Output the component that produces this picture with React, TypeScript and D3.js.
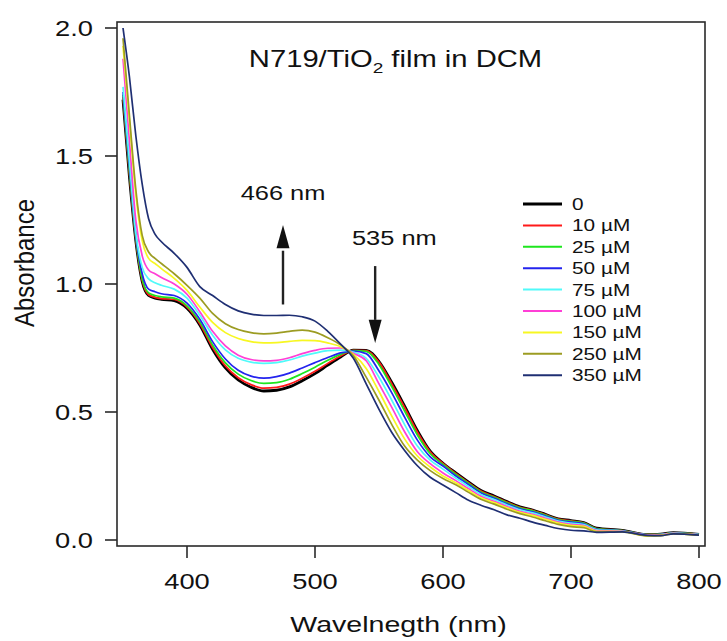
import React from "react";
import * as d3 from "d3";

const WAVELENGTHS = [350,355,360,365,370,375,380,390,400,410,420,430,440,450,460,470,480,490,500,510,520,530,540,550,560,570,580,590,600,610,620,630,640,650,660,670,680,690,700,710,720,740,760,770,780,800];

const C0 = [1.72,1.42,1.17,1.01,0.955,0.945,0.94,0.935,0.905,0.84,0.745,0.672,0.625,0.597,0.582,0.585,0.598,0.622,0.65,0.683,0.715,0.742,0.741,0.697,0.615,0.523,0.427,0.347,0.3,0.262,0.226,0.192,0.172,0.15,0.13,0.117,0.1,0.083,0.076,0.068,0.046,0.038,0.021,0.023,0.029,0.022];
const C10 = [1.73,1.43,1.175,1.013,0.958,0.948,0.943,0.94,0.91,0.845,0.752,0.68,0.634,0.607,0.593,0.596,0.609,0.632,0.659,0.69,0.719,0.741,0.74,0.695,0.61,0.518,0.422,0.345,0.299,0.26,0.224,0.19,0.17,0.148,0.128,0.116,0.099,0.082,0.075,0.067,0.045,0.037,0.021,0.022,0.028,0.022];
const C25 = [1.74,1.44,1.18,1.02,0.965,0.955,0.95,0.945,0.915,0.852,0.762,0.692,0.648,0.623,0.612,0.615,0.628,0.65,0.675,0.702,0.725,0.74,0.737,0.685,0.598,0.504,0.41,0.337,0.295,0.256,0.221,0.187,0.167,0.145,0.126,0.114,0.097,0.08,0.073,0.066,0.044,0.037,0.021,0.022,0.028,0.022];
const C50 = [1.75,1.46,1.19,1.04,0.98,0.97,0.962,0.955,0.925,0.862,0.775,0.707,0.663,0.64,0.632,0.638,0.652,0.672,0.693,0.713,0.731,0.738,0.728,0.66,0.575,0.48,0.39,0.325,0.289,0.25,0.216,0.183,0.163,0.141,0.122,0.11,0.094,0.077,0.07,0.063,0.042,0.036,0.02,0.021,0.027,0.021];
const C75 = [1.77,1.48,1.2,1.065,1.02,1.005,0.995,0.98,0.945,0.878,0.8,0.743,0.71,0.695,0.69,0.693,0.703,0.718,0.73,0.74,0.742,0.734,0.71,0.636,0.546,0.451,0.367,0.312,0.277,0.242,0.209,0.177,0.158,0.137,0.118,0.106,0.09,0.074,0.066,0.06,0.04,0.035,0.02,0.021,0.027,0.021];
const C100 = [1.88,1.56,1.25,1.11,1.055,1.04,1.025,1.0,0.96,0.892,0.815,0.758,0.722,0.705,0.7,0.702,0.712,0.728,0.741,0.749,0.75,0.729,0.7,0.61,0.518,0.423,0.345,0.298,0.262,0.232,0.2,0.17,0.151,0.131,0.112,0.1,0.085,0.07,0.061,0.056,0.037,0.034,0.019,0.02,0.026,0.02];
const C150 = [1.93,1.64,1.35,1.17,1.1,1.08,1.06,1.022,0.975,0.91,0.85,0.81,0.787,0.775,0.77,0.771,0.776,0.78,0.779,0.77,0.755,0.725,0.67,0.58,0.484,0.395,0.328,0.285,0.25,0.224,0.193,0.164,0.146,0.126,0.108,0.096,0.081,0.066,0.057,0.053,0.034,0.033,0.017,0.018,0.025,0.019];
const C250 = [1.96,1.66,1.37,1.19,1.125,1.1,1.08,1.04,0.995,0.945,0.885,0.845,0.822,0.81,0.805,0.808,0.815,0.82,0.812,0.79,0.762,0.72,0.636,0.546,0.451,0.367,0.312,0.271,0.24,0.216,0.186,0.158,0.14,0.12,0.103,0.09,0.075,0.061,0.052,0.048,0.032,0.032,0.016,0.017,0.024,0.019];
const C350 = [2.0,1.81,1.58,1.39,1.255,1.195,1.165,1.12,1.065,0.99,0.955,0.92,0.895,0.882,0.877,0.877,0.878,0.872,0.855,0.815,0.765,0.71,0.61,0.51,0.42,0.35,0.29,0.245,0.215,0.185,0.155,0.135,0.118,0.098,0.085,0.07,0.057,0.045,0.038,0.036,0.03,0.032,0.018,0.017,0.024,0.019];

const LABELS = ["0", "10 µM", "25 µM", "50 µM", "75 µM", "100 µM", "150 µM", "250 µM", "350 µM"];
const VALUES = [C0, C10, C25, C50, C75, C100, C150, C250, C350];
const COLORS = ["#000000", "#ff1a1a", "#1ee61e", "#2424ee", "#50fafa", "#ff3fd6", "#f7f722", "#9c9c22", "#1f2f73"];
const WIDTHS = [2.8, 1.7, 1.7, 1.7, 1.7, 1.7, 1.7, 1.7, 1.7];

const X_TICKS = [400, 500, 600, 700, 800];
const Y_TICKS = [0, 0.5, 1.0, 1.5, 2.0];

const W = 727, H = 641;
const FRAME = { left: 117, right: 705, top: 22, bottom: 546 };
const SX = 1.27;
const FONT = "'Liberation Sans', Arial, sans-serif";

export default function App() {
  const x = d3.scaleLinear().domain([350, 800]).range([123, 699]);
  const y = d3.scaleLinear().domain([0, 2]).range([540, 28]);
  const line = d3
    .line<number>()
    .x((_, i) => x(WAVELENGTHS[i]))
    .y((v) => y(v))
    .curve(d3.curveMonotoneX);

  const txt = (tx: number, ty: number, s: number, content: React.ReactNode, anchor = "start", size = 21) => (
    <text
      transform={`translate(${tx},${ty}) scale(${s},1)`}
      textAnchor={anchor}
      fontFamily={FONT}
      fontSize={size}
      fill="#111"
    >
      {content}
    </text>
  );

  const legX0 = 523, legX1 = 562, legTx = 572, legY0 = 204, legDy = 21.4;

  return (
    <svg width={W} height={H} style={{ position: "absolute", left: 0, top: 0, background: "#fff" }}>
      <defs>
        <clipPath id="plotclip">
          <rect x={FRAME.left} y={FRAME.top} width={FRAME.right - FRAME.left} height={FRAME.bottom - FRAME.top} />
        </clipPath>
      </defs>
      <rect x={0} y={0} width={W} height={H} fill="#fff" />
      <g clipPath="url(#plotclip)">
        {VALUES.map((vals, i) => (
          <path key={i} d={line(vals) || ""} fill="none" stroke={COLORS[i]} strokeWidth={WIDTHS[i]} strokeLinejoin="round" />
        ))}
      </g>
      <rect
        x={FRAME.left}
        y={FRAME.top}
        width={FRAME.right - FRAME.left}
        height={FRAME.bottom - FRAME.top}
        fill="none"
        stroke="#2a2a2a"
        strokeWidth={1.6}
      />
      {Y_TICKS.map((t) => (
        <g key={"y" + t}>
          <line x1={FRAME.left - 12} x2={FRAME.left} y1={y(t)} y2={y(t)} stroke="#2a2a2a" strokeWidth={1.6} />
          {txt(93, y(t) + 7.5, SX, t.toFixed(1), "end", 21.5)}
        </g>
      ))}
      {X_TICKS.map((t) => (
        <g key={"x" + t}>
          <line x1={x(t)} x2={x(t)} y1={FRAME.bottom} y2={FRAME.bottom + 12} stroke="#2a2a2a" strokeWidth={1.6} />
          {txt(x(t), 589, SX, String(t), "middle", 21.5)}
        </g>
      ))}
      {txt(398.5, 632, SX, "Wavelnegth (nm)", "middle", 22.5)}
      <text
        transform={`translate(34,263) scale(1.12,1) rotate(-90)`}
        textAnchor="middle"
        fontFamily={FONT}
        fontSize={24}
        fill="#111"
      >
        Absorbance
      </text>
      {txt(
        395.5,
        66.5,
        SX,
        <>
          N719/TiO
          <tspan fontSize={15} dy={6}>2</tspan>
          <tspan dy={-6}> film in DCM</tspan>
        </>,
        "middle",
        23
      )}
      {txt(x(475), y(1.328), SX, "466 nm", "middle", 20)}
      {txt(x(562), y(1.152), SX, "535 nm", "middle", 20)}
      <line x1={x(475)} x2={x(475)} y1={y(0.92)} y2={y(1.13)} stroke="#222" strokeWidth={2.4} />
      <path
        d={`M${x(475)},${y(1.23)} L${x(475) - 6.5},${y(1.14)} L${x(475) + 6.5},${y(1.14)} Z`}
        fill="#111"
      />
      <line x1={x(547)} x2={x(547)} y1={y(1.07)} y2={y(0.86)} stroke="#222" strokeWidth={2.4} />
      <path
        d={`M${x(547)},${y(0.77)} L${x(547) - 6.5},${y(0.86)} L${x(547) + 6.5},${y(0.86)} Z`}
        fill="#111"
      />
      {LABELS.map((lab, i) => (
        <g key={"leg" + i}>
          <line
            x1={legX0}
            x2={legX1}
            y1={legY0 + i * legDy}
            y2={legY0 + i * legDy}
            stroke={COLORS[i]}
            strokeWidth={i === 0 ? 3 : 2}
          />
          {txt(legTx, legY0 + i * legDy + 6, 1.3, lab, "start", 16)}
        </g>
      ))}
    </svg>
  );
}
